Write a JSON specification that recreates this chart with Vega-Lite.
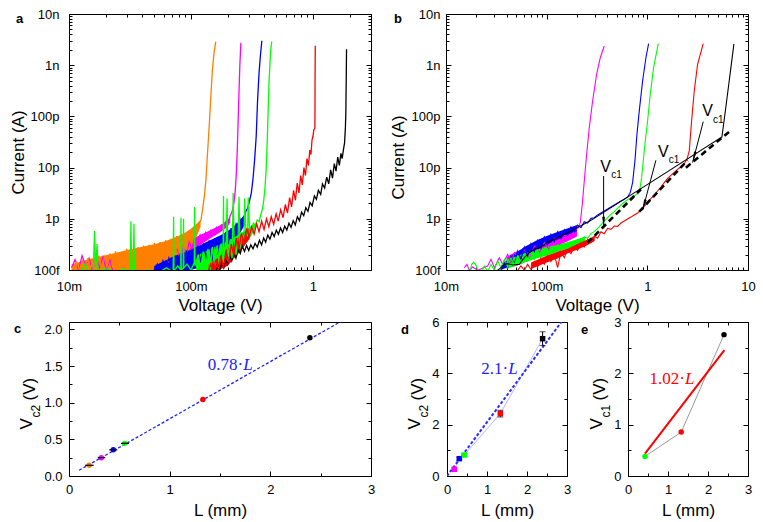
{
  "$schema": "https://vega.github.io/schema/vega-lite/v6.json",
  "background": "white",
  "padding": {"left": 8, "top": 7, "right": 5, "bottom": 3},
  "config": {
    "view": {"stroke": "#000", "strokeWidth": 1},
    "font": "Liberation Sans",
    "axis": {
      "grid": false, "domain": false, "labelFont": "Liberation Sans", "labelFontSize": 13,
      "labelColor": "#000", "titleFont": "Liberation Sans", "titleFontSize": 17,
      "titleFontWeight": "normal", "titleColor": "#000", "tickColor": "#000",
      "labelFlush": false, "labelOverlap": false
    }
  },
  "datasets": {
    "ba": [
      {"s":"m","v":0.077,"lo":1.5e-13,"hi":2.6e-13},{"s":"m","v":0.09,"lo":1.9e-13,"hi":3.3e-13},{"s":"m","v":0.1,"lo":2.3e-13,"hi":3.9e-13},{"s":"m","v":0.12,"lo":3.1e-13,"hi":4.9e-13},{"s":"m","v":0.14,"lo":4e-13,"hi":5.8e-13},{"s":"m","v":0.16,"lo":4.8e-13,"hi":6.8e-13},{"s":"m","v":0.18,"lo":5.8e-13,"hi":7.8e-13},{"s":"m","v":0.2,"lo":7e-13,"hi":9.5e-13},{"s":"m","v":0.21,"lo":8.5e-13,"hi":1.1e-12},
      {"s":"o","v":0.0105,"lo":1e-13,"hi":1.3e-13},{"s":"o","v":0.015,"lo":1e-13,"hi":1.65e-13},{"s":"o","v":0.02,"lo":1e-13,"hi":1.95e-13},{"s":"o","v":0.03,"lo":1e-13,"hi":2.45e-13},{"s":"o","v":0.04,"lo":1e-13,"hi":2.85e-13},{"s":"o","v":0.05,"lo":1e-13,"hi":3.2e-13},{"s":"o","v":0.06,"lo":1.05e-13,"hi":3.6e-13},{"s":"o","v":0.07,"lo":1.2e-13,"hi":4.1e-13},{"s":"o","v":0.08,"lo":1.5e-13,"hi":4.7e-13},{"s":"o","v":0.09,"lo":1.9e-13,"hi":5.4e-13},{"s":"o","v":0.1,"lo":2.8e-13,"hi":6.4e-13},{"s":"o","v":0.11,"lo":4.2e-13,"hi":7.8e-13},{"s":"o","v":0.12,"lo":7e-13,"hi":9.5e-13},
      {"s":"b","v":0.05,"lo":1e-13,"hi":1.2e-13},{"s":"b","v":0.07,"lo":1e-13,"hi":1.8e-13},{"s":"b","v":0.1,"lo":1e-13,"hi":2.5e-13},{"s":"b","v":0.13,"lo":1.2e-13,"hi":3.4e-13},{"s":"b","v":0.16,"lo":1.5e-13,"hi":4.3e-13},{"s":"b","v":0.19,"lo":2.2e-13,"hi":5.3e-13},{"s":"b","v":0.22,"lo":3.5e-13,"hi":6.8e-13},{"s":"b","v":0.25,"lo":5e-13,"hi":9e-13},{"s":"b","v":0.28,"lo":8e-13,"hi":1.3e-12},
      {"s":"g","v":0.11,"lo":1e-13,"hi":1.9e-13},{"s":"g","v":0.15,"lo":1e-13,"hi":2.7e-13},{"s":"g","v":0.2,"lo":1.3e-13,"hi":3.7e-13},{"s":"g","v":0.25,"lo":2.2e-13,"hi":5e-13},{"s":"g","v":0.3,"lo":4e-13,"hi":6.8e-13},{"s":"g","v":0.34,"lo":6.5e-13,"hi":8.5e-13},
      {"s":"r","v":0.14,"lo":1e-13,"hi":1.3e-13},{"s":"r","v":0.17,"lo":1e-13,"hi":1.8e-13},{"s":"r","v":0.2,"lo":1.2e-13,"hi":2.7e-13},{"s":"r","v":0.23,"lo":1.8e-13,"hi":3.8e-13},{"s":"r","v":0.26,"lo":2.5e-13,"hi":5e-13},{"s":"r","v":0.3,"lo":4e-13,"hi":6.5e-13}
    ],
    "bb": [
      {"s":"m","v":0.04,"lo":1.1e-13,"hi":1.8e-13},{"s":"m","v":0.05,"lo":1.2e-13,"hi":2.3e-13},{"s":"m","v":0.08,"lo":1.8e-13,"hi":3.1e-13},{"s":"m","v":0.12,"lo":2.8e-13,"hi":4.2e-13},{"s":"m","v":0.16,"lo":3.6e-13,"hi":5e-13},{"s":"m","v":0.2,"lo":4.5e-13,"hi":6.5e-13},
      {"s":"b","v":0.035,"lo":1e-13,"hi":1.2e-13},{"s":"b","v":0.045,"lo":1.2e-13,"hi":1.9e-13},{"s":"b","v":0.06,"lo":1.8e-13,"hi":2.8e-13},{"s":"b","v":0.08,"lo":2.5e-13,"hi":3.8e-13},{"s":"b","v":0.1,"lo":3.1e-13,"hi":4.6e-13},{"s":"b","v":0.13,"lo":4e-13,"hi":5.6e-13},{"s":"b","v":0.16,"lo":4.8e-13,"hi":6.5e-13},{"s":"b","v":0.2,"lo":5.8e-13,"hi":7.6e-13},
      {"s":"g","v":0.04,"lo":1.05e-13,"hi":1.6e-13},{"s":"g","v":0.06,"lo":1.4e-13,"hi":2.1e-13},{"s":"g","v":0.08,"lo":1.7e-13,"hi":2.5e-13},{"s":"g","v":0.1,"lo":1.9e-13,"hi":2.8e-13},{"s":"g","v":0.13,"lo":2.3e-13,"hi":3.1e-13},{"s":"g","v":0.16,"lo":2.6e-13,"hi":3.5e-13},{"s":"g","v":0.2,"lo":3e-13,"hi":4e-13},{"s":"g","v":0.24,"lo":3.6e-13,"hi":4.5e-13},
      {"s":"r","v":0.07,"lo":1.05e-13,"hi":1.4e-13},{"s":"r","v":0.1,"lo":1.4e-13,"hi":1.9e-13},{"s":"r","v":0.13,"lo":1.7e-13,"hi":2.3e-13},{"s":"r","v":0.16,"lo":2.1e-13,"hi":2.6e-13},{"s":"r","v":0.2,"lo":2.5e-13,"hi":3.2e-13},{"s":"r","v":0.25,"lo":3e-13,"hi":3.9e-13},{"s":"r","v":0.3,"lo":3.7e-13,"hi":4.6e-13}
    ],
    "ca": [
      {"s":"k","v":0.16,"i":9e-14},{"s":"k","v":0.166,"i":1.2e-13},{"s":"k","v":0.172,"i":9.5e-14},{"s":"k","v":0.179,"i":1.4e-13},{"s":"k","v":0.186,"i":1.1e-13},{"s":"k","v":0.193,"i":1.6e-13},{"s":"k","v":0.2,"i":1.3e-13},{"s":"k","v":0.208,"i":1.9e-13},{"s":"k","v":0.216,"i":1.5e-13},{"s":"k","v":0.225,"i":2.1e-13},{"s":"k","v":0.234,"i":1.7e-13},{"s":"k","v":0.244,"i":2.5e-13},{"s":"k","v":0.254,"i":2.1e-13},{"s":"k","v":0.264,"i":2.9e-13},{"s":"k","v":0.275,"i":2.3e-13},{"s":"k","v":0.286,"i":3.0e-13},{"s":"k","v":0.298,"i":2.4e-13},{"s":"k","v":0.31,"i":3.1e-13},{"s":"k","v":0.323,"i":2.6e-13},{"s":"k","v":0.336,"i":3.3e-13},{"s":"k","v":0.35,"i":2.8e-13},{"s":"k","v":0.365,"i":3.8e-13},{"s":"k","v":0.38,"i":3.1e-13},{"s":"k","v":0.395,"i":4.2e-13},{"s":"k","v":0.41,"i":3.5e-13},{"s":"k","v":0.427,"i":4.8e-13},{"s":"k","v":0.445,"i":4.0e-13},{"s":"k","v":0.463,"i":5.4e-13},{"s":"k","v":0.482,"i":4.5e-13},{"s":"k","v":0.502,"i":6.0e-13},{"s":"k","v":0.522,"i":5.0e-13},{"s":"k","v":0.543,"i":6.6e-13},{"s":"k","v":0.565,"i":5.4e-13},{"s":"k","v":0.588,"i":7.2e-13},{"s":"k","v":0.612,"i":6.0e-13},{"s":"k","v":0.637,"i":8.2e-13},{"s":"k","v":0.663,"i":6.8e-13},{"s":"k","v":0.69,"i":9.2e-13},{"s":"k","v":0.718,"i":7.6e-13},{"s":"k","v":0.747,"i":1.1e-12},{"s":"k","v":0.777,"i":9.2e-13},{"s":"k","v":0.809,"i":1.35e-12},{"s":"k","v":0.842,"i":1.15e-12},{"s":"k","v":0.876,"i":1.65e-12},{"s":"k","v":0.912,"i":1.4e-12},{"s":"k","v":0.949,"i":2.1e-12},{"s":"k","v":0.988,"i":1.8e-12},{"s":"k","v":1.03,"i":2.8e-12},{"s":"k","v":1.07,"i":2.4e-12},{"s":"k","v":1.11,"i":3.6e-12},{"s":"k","v":1.16,"i":3.0e-12},{"s":"k","v":1.2,"i":4.8e-12},{"s":"k","v":1.25,"i":4.0e-12},{"s":"k","v":1.3,"i":6.5e-12},{"s":"k","v":1.35,"i":4.8e-12},{"s":"k","v":1.4,"i":9e-12},{"s":"k","v":1.45,"i":6.2e-12},{"s":"k","v":1.5,"i":1.2e-11},{"s":"k","v":1.55,"i":8.5e-12},{"s":"k","v":1.6,"i":1.6e-11},{"s":"k","v":1.65,"i":1.1e-11},{"s":"k","v":1.7,"i":1.9e-11},{"s":"k","v":1.74,"i":1.5e-11},{"s":"k","v":1.78,"i":2.2e-11},{"s":"k","v":1.82,"i":3e-11},{"s":"k","v":1.85,"i":6e-11},{"s":"k","v":1.866,"i":1.2e-10},{"s":"k","v":1.88,"i":6e-10},{"s":"k","v":1.89,"i":2.05e-9},
      {"s":"m0","v":0.0105,"i":1.1e-13},{"s":"m0","v":0.0112,"i":1.6e-13},{"s":"m0","v":0.012,"i":1.0e-13},{"s":"m0","v":0.0128,"i":1.9e-13},{"s":"m0","v":0.0137,"i":1.2e-13},{"s":"m0","v":0.0146,"i":1.7e-13},{"s":"m0","v":0.0156,"i":9.5e-14},{"s":"m0","v":0.0167,"i":2.0e-13},{"s":"m0","v":0.0178,"i":1.1e-13},{"s":"m0","v":0.019,"i":1.8e-13},{"s":"m0","v":0.0203,"i":1.0e-13},{"s":"m0","v":0.0217,"i":1.6e-13},{"s":"m0","v":0.023,"i":9e-14},
      {"s":"m","v":0.077,"i":2.6e-13},{"s":"m","v":0.082,"i":1.6e-13},{"s":"m","v":0.087,"i":3.0e-13},{"s":"m","v":0.092,"i":2.0e-13},{"s":"m","v":0.097,"i":3.6e-13},{"s":"m","v":0.102,"i":2.5e-13},{"s":"m","v":0.107,"i":4.2e-13},{"s":"m","v":0.113,"i":3.0e-13},{"s":"m","v":0.119,"i":4.8e-13},{"s":"m","v":0.125,"i":3.6e-13},{"s":"m","v":0.132,"i":5.4e-13},{"s":"m","v":0.139,"i":4.2e-13},{"s":"m","v":0.146,"i":6.0e-13},{"s":"m","v":0.154,"i":5.0e-13},{"s":"m","v":0.162,"i":6.8e-13},{"s":"m","v":0.17,"i":5.8e-13},{"s":"m","v":0.178,"i":7.6e-13},{"s":"m","v":0.186,"i":6.8e-13},{"s":"m","v":0.194,"i":9e-13},{"s":"m","v":0.202,"i":8.5e-13},{"s":"m","v":0.21,"i":1.15e-12},{"s":"m","v":0.218,"i":1.4e-12},{"s":"m","v":0.225,"i":2e-12},{"s":"m","v":0.231,"i":3.5e-12},{"s":"m","v":0.236,"i":8e-12},{"s":"m","v":0.24,"i":2.2e-11},{"s":"m","v":0.244,"i":8e-11},{"s":"m","v":0.248,"i":3e-10},{"s":"m","v":0.252,"i":1e-9},{"s":"m","v":0.257,"i":2.75e-9},
      {"s":"o","v":0.0105,"i":1.2e-13},{"s":"o","v":0.011,"i":9.5e-14},{"s":"o","v":0.0116,"i":1.4e-13},{"s":"o","v":0.0122,"i":1.0e-13},{"s":"o","v":0.0129,"i":1.5e-13},{"s":"o","v":0.0136,"i":1.1e-13},{"s":"o","v":0.0143,"i":1.7e-13},{"s":"o","v":0.015,"i":1.05e-13},{"s":"o","v":0.0158,"i":1.6e-13},{"s":"o","v":0.0167,"i":1.15e-13},{"s":"o","v":0.0176,"i":1.9e-13},{"s":"o","v":0.0185,"i":1.0e-13},{"s":"o","v":0.0195,"i":1.8e-13},{"s":"o","v":0.0206,"i":1.2e-13},{"s":"o","v":0.0217,"i":2.1e-13},{"s":"o","v":0.0229,"i":1.1e-13},{"s":"o","v":0.0241,"i":2.3e-13},{"s":"o","v":0.0254,"i":1.25e-13},{"s":"o","v":0.0268,"i":2.2e-13},{"s":"o","v":0.0282,"i":1.05e-13},{"s":"o","v":0.0297,"i":2.6e-13},{"s":"o","v":0.0313,"i":1.3e-13},{"s":"o","v":0.033,"i":2.5e-13},{"s":"o","v":0.0348,"i":1.15e-13},{"s":"o","v":0.0367,"i":2.8e-13},{"s":"o","v":0.0387,"i":1.4e-13},{"s":"o","v":0.0408,"i":3.0e-13},{"s":"o","v":0.043,"i":1.2e-13},{"s":"o","v":0.0453,"i":3.1e-13},{"s":"o","v":0.0477,"i":1.5e-13},{"s":"o","v":0.0503,"i":3.4e-13},{"s":"o","v":0.053,"i":1.3e-13},{"s":"o","v":0.0559,"i":3.5e-13},{"s":"o","v":0.0589,"i":1.6e-13},{"s":"o","v":0.0621,"i":3.8e-13},{"s":"o","v":0.0654,"i":1.4e-13},{"s":"o","v":0.0689,"i":4.1e-13},{"s":"o","v":0.0726,"i":1.8e-13},{"s":"o","v":0.0765,"i":4.6e-13},{"s":"o","v":0.0806,"i":2.0e-13},{"s":"o","v":0.085,"i":5.0e-13},{"s":"o","v":0.0896,"i":2.6e-13},{"s":"o","v":0.0944,"i":5.6e-13},{"s":"o","v":0.0995,"i":3.4e-13},{"s":"o","v":0.105,"i":6.4e-13},{"s":"o","v":0.11,"i":4.8e-13},{"s":"o","v":0.116,"i":8.0e-13},{"s":"o","v":0.121,"i":9.5e-13},{"s":"o","v":0.125,"i":1.6e-12},{"s":"o","v":0.129,"i":2.8e-12},{"s":"o","v":0.133,"i":6e-12},{"s":"o","v":0.136,"i":1.5e-11},{"s":"o","v":0.139,"i":3.5e-11},{"s":"o","v":0.142,"i":8e-11},{"s":"o","v":0.145,"i":2e-10},{"s":"o","v":0.15,"i":8e-10},{"s":"o","v":0.155,"i":1.8e-9},{"s":"o","v":0.16,"i":2.9e-9},
      {"s":"b","v":0.05,"i":1.0e-13},{"s":"b","v":0.053,"i":1.3e-13},{"s":"b","v":0.056,"i":9e-14},{"s":"b","v":0.059,"i":1.5e-13},{"s":"b","v":0.062,"i":1.0e-13},{"s":"b","v":0.066,"i":1.7e-13},{"s":"b","v":0.07,"i":1.05e-13},{"s":"b","v":0.074,"i":1.9e-13},{"s":"b","v":0.078,"i":1.1e-13},{"s":"b","v":0.082,"i":2.1e-13},{"s":"b","v":0.087,"i":1.0e-13},{"s":"b","v":0.092,"i":2.4e-13},{"s":"b","v":0.097,"i":1.2e-13},{"s":"b","v":0.102,"i":2.6e-13},{"s":"b","v":0.108,"i":1.1e-13},{"s":"b","v":0.114,"i":3.0e-13},{"s":"b","v":0.12,"i":1.4e-13},{"s":"b","v":0.127,"i":3.3e-13},{"s":"b","v":0.134,"i":1.6e-13},{"s":"b","v":0.141,"i":3.8e-13},{"s":"b","v":0.149,"i":1.5e-13},{"s":"b","v":0.157,"i":4.2e-13},{"s":"b","v":0.165,"i":2.0e-13},{"s":"b","v":0.174,"i":4.6e-13},{"s":"b","v":0.183,"i":2.4e-13},{"s":"b","v":0.193,"i":5.5e-13},{"s":"b","v":0.203,"i":3.2e-13},{"s":"b","v":0.213,"i":6.5e-13},{"s":"b","v":0.224,"i":4.5e-13},{"s":"b","v":0.235,"i":8e-13},{"s":"b","v":0.246,"i":6e-13},{"s":"b","v":0.258,"i":1.0e-12},{"s":"b","v":0.27,"i":8.5e-13},{"s":"b","v":0.282,"i":1.4e-12},{"s":"b","v":0.292,"i":1.6e-12},{"s":"b","v":0.302,"i":2.2e-12},{"s":"b","v":0.313,"i":3.2e-12},{"s":"b","v":0.323,"i":6e-12},{"s":"b","v":0.333,"i":1.4e-11},{"s":"b","v":0.343,"i":4e-11},{"s":"b","v":0.352,"i":2e-10},{"s":"b","v":0.362,"i":7e-10},{"s":"b","v":0.372,"i":1.6e-9},{"s":"b","v":0.382,"i":3e-9},
      {"s":"g","v":0.0125,"i":9e-14},{"s":"g","v":0.0135,"i":1.3e-13},{"s":"g","v":0.0145,"i":9e-14},{"s":"g","v":0.0158,"i":9e-14},{"s":"g","v":0.0162,"i":5.8e-13},{"s":"g","v":0.0165,"i":9e-14},{"s":"g","v":0.017,"i":3.2e-13},{"s":"g","v":0.0173,"i":9e-14},{"s":"g","v":0.02,"i":1.1e-13},{"s":"g","v":0.024,"i":9e-14},{"s":"g","v":0.028,"i":1.05e-13},{"s":"g","v":0.0318,"i":9e-14},{"s":"g","v":0.0322,"i":9e-13},{"s":"g","v":0.0327,"i":9e-14},{"s":"g","v":0.0337,"i":9e-14},{"s":"g","v":0.0341,"i":8e-13},{"s":"g","v":0.0345,"i":9e-14},{"s":"g","v":0.045,"i":1.0e-13},{"s":"g","v":0.055,"i":9e-14},{"s":"g","v":0.063,"i":1.1e-13},{"s":"g","v":0.0715,"i":9e-14},{"s":"g","v":0.0721,"i":1.1e-12},{"s":"g","v":0.0727,"i":9.5e-14},{"s":"g","v":0.078,"i":1.2e-13},{"s":"g","v":0.0825,"i":1.0e-13},{"s":"g","v":0.0829,"i":1.05e-12},{"s":"g","v":0.0834,"i":1.0e-13},{"s":"g","v":0.0865,"i":1.1e-13},{"s":"g","v":0.087,"i":1.0e-12},{"s":"g","v":0.0875,"i":1.1e-13},{"s":"g","v":0.093,"i":1.3e-13},{"s":"g","v":0.1,"i":1.0e-13},{"s":"g","v":0.1065,"i":1.4e-13},{"s":"g","v":0.1072,"i":1.7e-12},{"s":"g","v":0.108,"i":1.2e-13},{"s":"g","v":0.115,"i":2.0e-13},{"s":"g","v":0.12,"i":1.0e-13},{"s":"g","v":0.126,"i":2.3e-13},{"s":"g","v":0.132,"i":1.1e-13},{"s":"g","v":0.138,"i":2.6e-13},{"s":"g","v":0.144,"i":1.0e-13},{"s":"g","v":0.15,"i":2.8e-13},{"s":"g","v":0.157,"i":1.2e-13},{"s":"g","v":0.164,"i":3.0e-13},{"s":"g","v":0.171,"i":1.3e-13},{"s":"g","v":0.178,"i":3.3e-13},{"s":"g","v":0.1835,"i":1.4e-13},{"s":"g","v":0.185,"i":2.8e-12},{"s":"g","v":0.1865,"i":1.4e-13},{"s":"g","v":0.195,"i":3.6e-13},{"s":"g","v":0.198,"i":2.5e-12},{"s":"g","v":0.201,"i":1.5e-13},{"s":"g","v":0.21,"i":3.9e-13},{"s":"g","v":0.218,"i":1.7e-13},{"s":"g","v":0.222,"i":3.2e-12},{"s":"g","v":0.226,"i":4.3e-13},{"s":"g","v":0.235,"i":2.0e-13},{"s":"g","v":0.244,"i":4.8e-13},{"s":"g","v":0.248,"i":2.7e-12},{"s":"g","v":0.253,"i":2.6e-13},{"s":"g","v":0.263,"i":5.5e-13},{"s":"g","v":0.272,"i":3.4e-13},{"s":"g","v":0.276,"i":2.5e-12},{"s":"g","v":0.282,"i":6.2e-13},{"s":"g","v":0.292,"i":4.5e-13},{"s":"g","v":0.295,"i":2.6e-12},{"s":"g","v":0.302,"i":7.0e-13},{"s":"g","v":0.313,"i":5.8e-13},{"s":"g","v":0.325,"i":8.2e-13},{"s":"g","v":0.337,"i":7.2e-13},{"s":"g","v":0.35,"i":9.5e-13},{"s":"g","v":0.362,"i":8.8e-13},{"s":"g","v":0.374,"i":1.2e-12},{"s":"g","v":0.385,"i":1.5e-12},{"s":"g","v":0.395,"i":2.2e-12},{"s":"g","v":0.405,"i":4e-12},{"s":"g","v":0.415,"i":1e-11},{"s":"g","v":0.423,"i":3.5e-11},{"s":"g","v":0.43,"i":1.3e-10},{"s":"g","v":0.437,"i":4.5e-10},{"s":"g","v":0.445,"i":1.1e-9},{"s":"g","v":0.452,"i":2e-9},{"s":"g","v":0.46,"i":2.9e-9},
      {"s":"r","v":0.138,"i":9e-14},{"s":"r","v":0.145,"i":1.3e-13},{"s":"r","v":0.152,"i":9.5e-14},{"s":"r","v":0.16,"i":1.6e-13},{"s":"r","v":0.168,"i":1.0e-13},{"s":"r","v":0.176,"i":1.9e-13},{"s":"r","v":0.185,"i":1.1e-13},{"s":"r","v":0.194,"i":2.4e-13},{"s":"r","v":0.204,"i":1.4e-13},{"s":"r","v":0.214,"i":3.2e-13},{"s":"r","v":0.225,"i":1.9e-13},{"s":"r","v":0.236,"i":4.2e-13},{"s":"r","v":0.248,"i":2.6e-13},{"s":"r","v":0.26,"i":5.2e-13},{"s":"r","v":0.273,"i":3.4e-13},{"s":"r","v":0.287,"i":6.5e-13},{"s":"r","v":0.3,"i":4.4e-13},{"s":"r","v":0.315,"i":7.0e-13},{"s":"r","v":0.33,"i":5.0e-13},{"s":"r","v":0.346,"i":8.0e-13},{"s":"r","v":0.362,"i":5.6e-13},{"s":"r","v":0.38,"i":9.0e-13},{"s":"r","v":0.398,"i":6.2e-13},{"s":"r","v":0.417,"i":1.0e-12},{"s":"r","v":0.436,"i":7.0e-13},{"s":"r","v":0.456,"i":1.1e-12},{"s":"r","v":0.477,"i":7.8e-13},{"s":"r","v":0.5,"i":1.25e-12},{"s":"r","v":0.52,"i":9.0e-13},{"s":"r","v":0.545,"i":1.5e-12},{"s":"r","v":0.57,"i":1.05e-12},{"s":"r","v":0.595,"i":1.9e-12},{"s":"r","v":0.62,"i":1.3e-12},{"s":"r","v":0.645,"i":2.6e-12},{"s":"r","v":0.67,"i":1.7e-12},{"s":"r","v":0.695,"i":3.6e-12},{"s":"r","v":0.72,"i":2.3e-12},{"s":"r","v":0.745,"i":5.0e-12},{"s":"r","v":0.77,"i":3.2e-12},{"s":"r","v":0.795,"i":7.0e-12},{"s":"r","v":0.82,"i":4.6e-12},{"s":"r","v":0.845,"i":1.0e-11},{"s":"r","v":0.87,"i":7e-12},{"s":"r","v":0.895,"i":1.5e-11},{"s":"r","v":0.92,"i":1.1e-11},{"s":"r","v":0.945,"i":2.2e-11},{"s":"r","v":0.965,"i":1.8e-11},{"s":"r","v":0.985,"i":3.5e-11},{"s":"r","v":1.0,"i":4e-11},{"s":"r","v":1.02,"i":5.5e-11},{"s":"r","v":1.04,"i":6e-11},{"s":"r","v":1.043,"i":5e-10},{"s":"r","v":1.047,"i":2.4e-9}
    ],
    "cb": [
      {"s":"m","v":0.01521,"i":1.11e-13},{"s":"m","v":0.01616,"i":1.29e-13},{"s":"m","v":0.01705,"i":9.9e-14},{"s":"m","v":0.01839,"i":1.145e-13},{"s":"m","v":0.02063,"i":9.9e-14},{"s":"m","v":0.02594,"i":1.197e-13},{"s":"m","v":0.02798,"i":1.615e-13},{"s":"m","v":0.0302,"i":1.11e-13},{"s":"m","v":0.03385,"i":1.74e-13},{"s":"m","v":0.03653,"i":1.29e-13},{"s":"m","v":0.04097,"i":2.02e-13},{"s":"m","v":0.04419,"i":1.39e-13},{"s":"m","v":0.04771,"i":2.18e-13},{"s":"m","v":0.05349,"i":1.615e-13},{"s":"m","v":0.05997,"i":2.53e-13},{"s":"m","v":0.06721,"i":1.74e-13},{"s":"m","v":0.07535,"i":2.94e-13},{"s":"m","v":0.08449,"i":2.18e-13},{"s":"m","v":0.09473,"i":3.42e-13},{"s":"m","v":0.1062,"i":2.53e-13},{"s":"m","v":0.1191,"i":4.16e-13},{"s":"m","v":0.1335,"i":3.17e-13},{"s":"m","v":0.1497,"i":4.83e-13},{"s":"m","v":0.1678,"i":3.97e-13},{"s":"m","v":0.1881,"i":5.78e-13},{"s":"m","v":0.2061,"i":6.71e-13},{"s":"m","v":0.2158,"i":8.41e-13},{"s":"m","v":0.2259,"i":1.92e-12},{"s":"m","v":0.2364,"i":5.47e-12},{"s":"m","v":0.2494,"i":1.82e-11},{"s":"m","v":0.2651,"i":6.03e-11},{"s":"m","v":0.286,"i":2.0e-10},{"s":"m","v":0.3134,"i":6.64e-10},{"s":"m","v":0.3408,"i":1.4e-9},{"s":"m","v":0.3736,"i":2.37e-9},
      {"s":"b","v":0.0352,"i":9.9e-14},{"s":"b","v":0.03796,"i":1.39e-13},{"s":"b","v":0.04097,"i":1.11e-13},{"s":"b","v":0.04419,"i":1.88e-13},{"s":"b","v":0.04771,"i":1.29e-13},{"s":"b","v":0.05149,"i":2.35e-13},{"s":"b","v":0.05557,"i":1.615e-13},{"s":"b","v":0.05997,"i":2.81e-13},{"s":"b","v":0.06471,"i":1.88e-13},{"s":"b","v":0.06985,"i":3.27e-13},{"s":"b","v":0.07535,"i":2.28e-13},{"s":"b","v":0.08134,"i":3.8e-13},{"s":"b","v":0.08778,"i":2.65e-13},{"s":"b","v":0.09473,"i":4.41e-13},{"s":"b","v":0.1022,"i":3.08e-13},{"s":"b","v":0.1103,"i":4.97e-13},{"s":"b","v":0.1191,"i":3.57e-13},{"s":"b","v":0.1285,"i":5.61e-13},{"s":"b","v":0.1387,"i":4.16e-13},{"s":"b","v":0.1497,"i":6.14e-13},{"s":"b","v":0.1615,"i":4.83e-13},{"s":"b","v":0.1743,"i":6.92e-13},{"s":"b","v":0.1881,"i":5.61e-13},{"s":"b","v":0.203,"i":7.57e-13},{"s":"b","v":0.2191,"i":6.71e-13},{"s":"b","v":0.2364,"i":8.79e-13},{"s":"b","v":0.2551,"i":8.28e-13},{"s":"b","v":0.2754,"i":1.02e-12},{"s":"b","v":0.2972,"i":1.05e-12},{"s":"b","v":0.3207,"i":1.19e-12},{"s":"b","v":0.3461,"i":1.3e-12},{"s":"b","v":0.3736,"i":1.42e-12},{"s":"b","v":0.4031,"i":1.55e-12},{"s":"b","v":0.435,"i":1.7e-12},{"s":"b","v":0.4695,"i":1.86e-12},{"s":"b","v":0.5067,"i":2.04e-12},{"s":"b","v":0.5468,"i":2.23e-12},{"s":"b","v":0.5901,"i":2.4e-12},{"s":"b","v":0.6368,"i":2.67e-12},{"s":"b","v":0.6767,"i":3.24e-12},{"s":"b","v":0.714,"i":5.08e-12},{"s":"b","v":0.7529,"i":1.35e-11},{"s":"b","v":0.7884,"i":4.46e-11},{"s":"b","v":0.8316,"i":1.28e-10},{"s":"b","v":0.8974,"i":4.91e-10},{"s":"b","v":0.9685,"i":1.4e-9},{"s":"b","v":1.0294,"i":2.64e-9},
      {"s":"g","v":0.01744,"i":9.9e-14},{"s":"g","v":0.01798,"i":1.29e-13},{"s":"g","v":0.01882,"i":1.41e-13},{"s":"g","v":0.01986,"i":1.25e-13},{"s":"g","v":0.02063,"i":9.9e-14},{"s":"g","v":0.02226,"i":9.3e-14},{"s":"g","v":0.02403,"i":1.197e-13},{"s":"g","v":0.02594,"i":9.3e-14},{"s":"g","v":0.02798,"i":1.29e-13},{"s":"g","v":0.0302,"i":9.9e-14},{"s":"g","v":0.0326,"i":1.5e-13},{"s":"g","v":0.0352,"i":1.11e-13},{"s":"g","v":0.03796,"i":1.615e-13},{"s":"g","v":0.04097,"i":1.145e-13},{"s":"g","v":0.04419,"i":1.74e-13},{"s":"g","v":0.04771,"i":1.25e-13},{"s":"g","v":0.05149,"i":1.88e-13},{"s":"g","v":0.05557,"i":1.33e-13},{"s":"g","v":0.05997,"i":2.08e-13},{"s":"g","v":0.06471,"i":1.5e-13},{"s":"g","v":0.06985,"i":2.28e-13},{"s":"g","v":0.07535,"i":1.615e-13},{"s":"g","v":0.08134,"i":2.42e-13},{"s":"g","v":0.08778,"i":1.79e-13},{"s":"g","v":0.09473,"i":2.65e-13},{"s":"g","v":0.1022,"i":1.96e-13},{"s":"g","v":0.1103,"i":2.81e-13},{"s":"g","v":0.1191,"i":2.18e-13},{"s":"g","v":0.1285,"i":3.03e-13},{"s":"g","v":0.1387,"i":2.42e-13},{"s":"g","v":0.1497,"i":3.27e-13},{"s":"g","v":0.1615,"i":2.65e-13},{"s":"g","v":0.1743,"i":3.57e-13},{"s":"g","v":0.1881,"i":2.99e-13},{"s":"g","v":0.203,"i":3.92e-13},{"s":"g","v":0.2191,"i":3.47e-13},{"s":"g","v":0.2364,"i":4.41e-13},{"s":"g","v":0.2551,"i":4.16e-13},{"s":"g","v":0.2754,"i":5.13e-13},{"s":"g","v":0.2972,"i":5.61e-13},{"s":"g","v":0.3207,"i":6.52e-13},{"s":"g","v":0.3461,"i":7.57e-13},{"s":"g","v":0.3736,"i":9.06e-13},{"s":"g","v":0.4031,"i":1.05e-12},{"s":"g","v":0.435,"i":1.22e-12},{"s":"g","v":0.4695,"i":1.38e-12},{"s":"g","v":0.5067,"i":1.6e-12},{"s":"g","v":0.5468,"i":1.86e-12},{"s":"g","v":0.5901,"i":2.1e-12},{"s":"g","v":0.6368,"i":2.37e-12},{"s":"g","v":0.6872,"i":2.59e-12},{"s":"g","v":0.7416,"i":2.83e-12},{"s":"g","v":0.8003,"i":3.1e-12},{"s":"g","v":0.8379,"i":3.49e-12},{"s":"g","v":0.877,"i":6.37e-12},{"s":"g","v":0.9182,"i":1.56e-11},{"s":"g","v":0.9537,"i":3.31e-11},{"s":"g","v":1.006,"i":8.13e-11},{"s":"g","v":1.0693,"i":2.7e-10},{"s":"g","v":1.154,"i":8.96e-10},{"s":"g","v":1.284,"i":2.64e-9},
      {"s":"r","v":0.05149,"i":9.9e-14},{"s":"r","v":0.05557,"i":1.197e-13},{"s":"r","v":0.05997,"i":9.9e-14},{"s":"r","v":0.06471,"i":1.29e-13},{"s":"r","v":0.06985,"i":1.03e-13},{"s":"r","v":0.07535,"i":1.46e-13},{"s":"r","v":0.08134,"i":1.145e-13},{"s":"r","v":0.08778,"i":1.69e-13},{"s":"r","v":0.09473,"i":1.29e-13},{"s":"r","v":0.1022,"i":1.88e-13},{"s":"r","v":0.1103,"i":1.46e-13},{"s":"r","v":0.1191,"i":2.02e-13},{"s":"r","v":0.1285,"i":1.11e-13},{"s":"r","v":0.1387,"i":2.28e-13},{"s":"r","v":0.1497,"i":1.74e-13},{"s":"r","v":0.1615,"i":2.53e-13},{"s":"r","v":0.1743,"i":2.08e-13},{"s":"r","v":0.1881,"i":2.94e-13},{"s":"r","v":0.203,"i":2.42e-13},{"s":"r","v":0.2191,"i":3.42e-13},{"s":"r","v":0.2364,"i":2.81e-13},{"s":"r","v":0.2551,"i":3.92e-13},{"s":"r","v":0.2754,"i":3.42e-13},{"s":"r","v":0.2972,"i":4.61e-13},{"s":"r","v":0.3207,"i":4.16e-13},{"s":"r","v":0.3461,"i":5.61e-13},{"s":"r","v":0.3736,"i":5.13e-13},{"s":"r","v":0.4031,"i":6.52e-13},{"s":"r","v":0.435,"i":6.22e-13},{"s":"r","v":0.4695,"i":7.23e-13},{"s":"r","v":0.5067,"i":7.13e-13},{"s":"r","v":0.5468,"i":8.28e-13},{"s":"r","v":0.5901,"i":9.06e-13},{"s":"r","v":0.6368,"i":9.91e-13},{"s":"r","v":0.6872,"i":1.08e-12},{"s":"r","v":0.7416,"i":1.19e-12},{"s":"r","v":0.8003,"i":1.3e-12},{"s":"r","v":0.8637,"i":1.46e-12},{"s":"r","v":0.9322,"i":1.75e-12},{"s":"r","v":1.006,"i":2.1e-12},{"s":"r","v":1.086,"i":2.51e-12},{"s":"r","v":1.172,"i":2.87e-12},{"s":"r","v":1.264,"i":3.49e-12},{"s":"r","v":1.365,"i":4.18e-12},{"s":"r","v":1.473,"i":5.08e-12},{"s":"r","v":1.589,"i":6.17e-12},{"s":"r","v":1.715,"i":7.06e-12},{"s":"r","v":1.851,"i":8.09e-12},{"s":"r","v":1.998,"i":9.25e-12},{"s":"r","v":2.156,"i":1.04e-11},{"s":"r","v":2.327,"i":1.19e-11},{"s":"r","v":2.473,"i":1.45e-11},{"s":"r","v":2.609,"i":2.11e-11},{"s":"r","v":2.752,"i":8.13e-11},{"s":"r","v":2.924,"i":3.13e-10},{"s":"r","v":3.156,"i":1.04e-9},{"s":"r","v":3.592,"i":2.64e-9},
      {"s":"k","v":0.0326,"i":9.9e-14},{"s":"k","v":0.0352,"i":1.11e-13},{"s":"k","v":0.03796,"i":1.29e-13},{"s":"k","v":0.04097,"i":1.33e-13},{"s":"k","v":0.04592,"i":1.25e-13},{"s":"k","v":0.05349,"i":1.29e-13},{"s":"k","v":0.05997,"i":1.74e-13},{"s":"k","v":0.06721,"i":2.18e-13},{"s":"k","v":0.07535,"i":2.53e-13},{"s":"k","v":0.08778,"i":2.81e-13},{"s":"k","v":0.1022,"i":3.47e-13},{"s":"k","v":0.1191,"i":3.97e-13},{"s":"k","v":0.1387,"i":4.61e-13},{"s":"k","v":0.1615,"i":5.36e-13},{"s":"k","v":0.1881,"i":6.32e-13},{"s":"k","v":0.2191,"i":7.35e-13},{"s":"k","v":0.2754,"i":9.33e-13},{"s":"k","v":1.006,"i":4.71e-12},{"s":"k","v":5.505,"i":3.96e-11},{"s":"k","v":5.897,"i":1.1e-10},{"s":"k","v":6.317,"i":3.13e-10},{"s":"k","v":6.764,"i":8.96e-10},{"s":"k","v":7.244,"i":2.6e-9}
    ],
    "fb": [
      {"seg":1,"v":0.2551,"i":3.42e-13},{"seg":1,"v":0.8637,"i":3.77e-12},
      {"seg":2,"v":0.8316,"i":1.38e-12},{"seg":2,"v":2.511,"i":1.39e-11},
      {"seg":3,"v":2.416,"i":9.97e-12},{"seg":3,"v":6.764,"i":5.35e-11}
    ],
    "ab": [
      {"a":1,"v":0.3679,"i":6.85e-12},{"a":1,"v":0.3679,"i":6.71e-13},
      {"a":2,"v":1.217,"i":1.39e-11},{"a":2,"v":0.8974,"i":1.47e-12},
      {"a":3,"v":3.592,"i":7.89e-11},{"a":3,"v":2.815,"i":1.25e-11}
    ],
    "hb": [
      {"a":1,"v":0.3679,"i":8.6e-13},
      {"a":2,"v":0.927,"i":1.86e-12},
      {"a":3,"v":2.906,"i":1.59e-11}
    ],
    "tb": [
      {"t":"V","v":0.385,"i":1.04e-11},{"t":"V","v":1.439,"i":2.05e-11},{"t":"V","v":3.97,"i":1.27e-10},
      {"t":"c1","v":0.437,"i":7.18e-12},{"t":"c1","v":1.632,"i":1.39e-11},{"t":"c1","v":4.5,"i":8.4e-11}
    ],
    "pc": [
      {"s":"o","L":0.2,"V":0.146,"lo":0.16,"hi":0.245},
      {"s":"m","L":0.32,"V":0.25,"lo":0.285,"hi":0.36},
      {"s":"b","L":0.44,"V":0.357,"lo":0.4,"hi":0.48},
      {"s":"g","L":0.553,"V":0.445,"lo":0.517,"hi":0.595},
      {"s":"r","L":1.33,"V":1.043,"lo":1.33,"hi":1.33},
      {"s":"k","L":2.393,"V":1.885,"lo":2.393,"hi":2.393}
    ],
    "pd": [
      {"s":"m","L":0.183,"V":0.26,"lo":0.2,"hi":0.32},
      {"s":"b","L":0.308,"V":0.675,"lo":0.62,"hi":0.73},
      {"s":"g","L":0.433,"V":0.82,"lo":0.77,"hi":0.87},
      {"s":"r","L":1.333,"V":2.43,"lo":2.3,"hi":2.56},
      {"s":"k","L":2.39,"V":5.35,"lo":5.08,"hi":5.62}
    ],
    "pe": [
      {"s":"g","L":0.425,"V":0.382},
      {"s":"r","L":1.33,"V":0.855},
      {"s":"k","L":2.4,"V":2.754}
    ]
  },
  "vconcat": [
    {
      "bounds": "flush",
      "spacing": 75,
      "hconcat": [
        {
          "width": 302, "height": 256,
          "title": {"text": "a", "anchor": "start", "frame": "group", "dx": -53, "offset": -27.5, "fontSize": 13, "fontWeight": "bold", "baseline": "alphabetic", "font": "Liberation Sans", "color": "#000"},
          "layer": [
            {
              "data": {"name": "ba"},
              "mark": {"type": "area", "opacity": 1, "clip": true},
              "encoding": {
                "x": {"field": "v", "type": "quantitative", "scale": {"type": "log", "domain": [0.01, 3], "nice": false}, "axis": null},
                "y": {"field": "hi", "type": "quantitative", "scale": {"type": "log", "domain": [1e-13, 1e-8], "nice": false}, "axis": null},
                "y2": {"field": "lo"},
                "color": {"field": "s", "type": "nominal", "scale": {"domain": ["k", "m0", "m", "o", "b", "g", "r"], "range": ["#000000", "#ff00ff", "#ff00ff", "#ff8000", "#0000ff", "#00ff00", "#ff0000"]}, "legend": null}
              }
            },
            {
              "data": {"name": "ca"},
              "mark": {"type": "line", "strokeWidth": 1.3, "clip": true},
              "encoding": {
                "x": {"field": "v", "type": "quantitative", "scale": {"type": "log", "domain": [0.01, 3], "nice": false},
                  "axis": {"orient": "bottom", "values": [0.01, 0.1, 1], "format": "~s", "ticks": false, "labelPadding": 10, "title": "Voltage (V)", "titleBaseline": "top", "titleY": 27}},
                "y": {"field": "i", "type": "quantitative", "scale": {"type": "log", "domain": [1e-13, 1e-8], "nice": false},
                  "axis": {"orient": "left", "values": [1e-13, 1e-12, 1e-11, 1e-10, 1e-9, 1e-8], "format": "~s", "ticks": false, "labelPadding": 10, "title": "Current (A)", "titleAngle": -90, "titleBaseline": "alphabetic", "titleAlign": "center", "titleX": -46, "titleY": 138}},
                "color": {"field": "s", "type": "nominal", "scale": {"domain": ["k", "m0", "m", "o", "b", "g", "r"], "range": ["#000000", "#ff00ff", "#ff00ff", "#ff8000", "#0000ff", "#00ff00", "#ff0000"]}, "legend": null}
              }
            },
            {
              "data": {"values": [{"v": 0.1, "i": 1e-11}]},
              "mark": {"type": "point", "opacity": 0},
              "encoding": {
                "x": {"field": "v", "type": "quantitative", "scale": {"type": "log", "domain": [0.01, 3], "nice": false},
                  "axis": {"orient": "bottom", "values": [0.01, 0.1, 1], "labels": false, "title": null, "tickSize": 5, "offset": -5}},
                "y": {"field": "i", "type": "quantitative", "scale": {"type": "log", "domain": [1e-13, 1e-8], "nice": false},
                  "axis": {"orient": "left", "values": [1e-13, 1e-12, 1e-11, 1e-10, 1e-9, 1e-8], "labels": false, "title": null, "tickSize": 5, "offset": -5}}
              }
            },
            {
              "data": {"values": [{"v": 0.1, "i": 1e-11}]},
              "mark": {"type": "point", "opacity": 0},
              "encoding": {
                "x": {"field": "v", "type": "quantitative", "scale": {"type": "log", "domain": [0.01, 3], "nice": false},
                  "axis": {"orient": "bottom", "values": [0.02, 0.03, 0.04, 0.05, 0.06, 0.07, 0.08, 0.09, 0.2, 0.3, 0.4, 0.5, 0.6, 0.7, 0.8, 0.9, 2, 3], "labels": false, "title": null, "tickSize": 3, "offset": -3}},
                "y": {"field": "i", "type": "quantitative", "scale": {"type": "log", "domain": [1e-13, 1e-8], "nice": false},
                  "axis": {"orient": "left", "values": [2e-13, 3e-13, 4e-13, 5e-13, 6e-13, 7e-13, 8e-13, 9e-13, 2e-12, 3e-12, 4e-12, 5e-12, 6e-12, 7e-12, 8e-12, 9e-12, 2e-11, 3e-11, 4e-11, 5e-11, 6e-11, 7e-11, 8e-11, 9e-11, 2e-10, 3e-10, 4e-10, 5e-10, 6e-10, 7e-10, 8e-10, 9e-10, 2e-9, 3e-9, 4e-9, 5e-9, 6e-9, 7e-9, 8e-9, 9e-9], "labels": false, "title": null, "tickSize": 3, "offset": -3}}
              }
            },
            {
              "data": {"values": [{"v": 0.1, "i": 1e-11}]},
              "mark": {"type": "point", "opacity": 0},
              "encoding": {
                "x": {"field": "v", "type": "quantitative", "scale": {"type": "log", "domain": [0.01, 3], "nice": false},
                  "axis": {"orient": "top", "values": [0.01, 0.1, 1], "labels": false, "title": null, "tickSize": 5, "offset": -5}},
                "y": {"field": "i", "type": "quantitative", "scale": {"type": "log", "domain": [1e-13, 1e-8], "nice": false},
                  "axis": {"orient": "right", "values": [1e-13, 1e-12, 1e-11, 1e-10, 1e-9, 1e-8], "labels": false, "title": null, "tickSize": 5, "offset": -5}}
              }
            },
            {
              "data": {"values": [{"v": 0.1, "i": 1e-11}]},
              "mark": {"type": "point", "opacity": 0},
              "encoding": {
                "x": {"field": "v", "type": "quantitative", "scale": {"type": "log", "domain": [0.01, 3], "nice": false},
                  "axis": {"orient": "top", "values": [0.02, 0.03, 0.04, 0.05, 0.06, 0.07, 0.08, 0.09, 0.2, 0.3, 0.4, 0.5, 0.6, 0.7, 0.8, 0.9, 2, 3], "labels": false, "title": null, "tickSize": 3, "offset": -3}},
                "y": {"field": "i", "type": "quantitative", "scale": {"type": "log", "domain": [1e-13, 1e-8], "nice": false},
                  "axis": {"orient": "right", "values": [2e-13, 3e-13, 4e-13, 5e-13, 6e-13, 7e-13, 8e-13, 9e-13, 2e-12, 3e-12, 4e-12, 5e-12, 6e-12, 7e-12, 8e-12, 9e-12, 2e-11, 3e-11, 4e-11, 5e-11, 6e-11, 7e-11, 8e-11, 9e-11, 2e-10, 3e-10, 4e-10, 5e-10, 6e-10, 7e-10, 8e-10, 9e-10, 2e-9, 3e-9, 4e-9, 5e-9, 6e-9, 7e-9, 8e-9, 9e-9], "labels": false, "title": null, "tickSize": 3, "offset": -3}}
              }
            }
          ],
          "resolve": {"axis": {"x": "independent", "y": "independent"}}
        },
        {
          "width": 302, "height": 256,
          "title": {"text": "b", "anchor": "start", "frame": "group", "dx": -52, "offset": -27.5, "fontSize": 13, "fontWeight": "bold", "baseline": "alphabetic", "font": "Liberation Sans", "color": "#000"},
          "layer": [
            {
              "data": {"name": "bb"},
              "mark": {"type": "area", "opacity": 1, "clip": true},
              "encoding": {
                "x": {"field": "v", "type": "quantitative", "scale": {"type": "log", "domain": [0.01, 10], "nice": false}, "axis": null},
                "y": {"field": "hi", "type": "quantitative", "scale": {"type": "log", "domain": [1e-13, 1e-8], "nice": false}, "axis": null},
                "y2": {"field": "lo"},
                "color": {"field": "s", "type": "nominal", "scale": {"domain": ["m", "b", "g", "r", "k"], "range": ["#ff00ff", "#0000ff", "#00ff00", "#ff0000", "#000000"]}, "legend": null}
              }
            },
            {
              "data": {"name": "cb"},
              "mark": {"type": "line", "strokeWidth": 1.1, "clip": true},
              "encoding": {
                "x": {"field": "v", "type": "quantitative", "scale": {"type": "log", "domain": [0.01, 10], "nice": false},
                  "axis": {"orient": "bottom", "values": [0.01, 0.1, 1, 10], "format": "~s", "ticks": false, "labelPadding": 10, "title": "Voltage (V)", "titleBaseline": "top", "titleY": 27}},
                "y": {"field": "i", "type": "quantitative", "scale": {"type": "log", "domain": [1e-13, 1e-8], "nice": false},
                  "axis": {"orient": "left", "values": [1e-13, 1e-12, 1e-11, 1e-10, 1e-9, 1e-8], "format": "~s", "ticks": false, "labelPadding": 6, "title": "Current (A)", "titleAngle": -90, "titleBaseline": "alphabetic", "titleAlign": "center", "titleX": -43, "titleY": 143}},
                "color": {"field": "s", "type": "nominal", "scale": {"domain": ["m", "b", "g", "r", "k"], "range": ["#ff00ff", "#0000ff", "#00ff00", "#ff0000", "#000000"]}, "legend": null}
              }
            },
            {
              "data": {"name": "fb"},
              "mark": {"type": "line", "color": "#000", "strokeWidth": 2.6, "strokeDash": [6, 4], "clip": true},
              "encoding": {
                "x": {"field": "v", "type": "quantitative", "scale": {"type": "log", "domain": [0.01, 10], "nice": false},
                  "axis": {"orient": "bottom", "values": [0.01, 0.1, 1, 10], "labels": false, "title": null, "tickSize": 5, "offset": -5}},
                "y": {"field": "i", "type": "quantitative", "scale": {"type": "log", "domain": [1e-13, 1e-8], "nice": false},
                  "axis": {"orient": "left", "values": [1e-13, 1e-12, 1e-11, 1e-10, 1e-9, 1e-8], "labels": false, "title": null, "tickSize": 5, "offset": -5}},
                "detail": {"field": "seg", "type": "nominal"}
              }
            },
            {
              "data": {"name": "ab"},
              "mark": {"type": "line", "color": "#000", "strokeWidth": 1},
              "encoding": {
                "x": {"field": "v", "type": "quantitative", "scale": {"type": "log", "domain": [0.01, 10], "nice": false},
                  "axis": {"orient": "bottom", "values": [0.02, 0.03, 0.04, 0.05, 0.06, 0.07, 0.08, 0.09, 0.2, 0.3, 0.4, 0.5, 0.6, 0.7, 0.8, 0.9, 2, 3, 4, 5, 6, 7, 8, 9], "labels": false, "title": null, "tickSize": 3, "offset": -3}},
                "y": {"field": "i", "type": "quantitative", "scale": {"type": "log", "domain": [1e-13, 1e-8], "nice": false},
                  "axis": {"orient": "left", "values": [2e-13, 3e-13, 4e-13, 5e-13, 6e-13, 7e-13, 8e-13, 9e-13, 2e-12, 3e-12, 4e-12, 5e-12, 6e-12, 7e-12, 8e-12, 9e-12, 2e-11, 3e-11, 4e-11, 5e-11, 6e-11, 7e-11, 8e-11, 9e-11, 2e-10, 3e-10, 4e-10, 5e-10, 6e-10, 7e-10, 8e-10, 9e-10, 2e-9, 3e-9, 4e-9, 5e-9, 6e-9, 7e-9, 8e-9, 9e-9], "labels": false, "title": null, "tickSize": 3, "offset": -3}},
                "detail": {"field": "a", "type": "nominal"}
              }
            },
            {
              "data": {"name": "hb"},
              "transform": [{"filter": "datum.a == 1"}],
              "mark": {"type": "point", "shape": "M-0.25,-1L0.25,-1L0,1Z", "size": 121, "filled": true, "color": "#000", "opacity": 1},
              "encoding": {
                "x": {"field": "v", "type": "quantitative", "scale": {"type": "log", "domain": [0.01, 10], "nice": false},
                  "axis": {"orient": "top", "values": [0.01, 0.1, 1, 10], "labels": false, "title": null, "tickSize": 5, "offset": -5}},
                "y": {"field": "i", "type": "quantitative", "scale": {"type": "log", "domain": [1e-13, 1e-8], "nice": false},
                  "axis": {"orient": "right", "values": [1e-13, 1e-12, 1e-11, 1e-10, 1e-9, 1e-8], "labels": false, "title": null, "tickSize": 5, "offset": -5}}
              }
            },
            {
              "data": {"name": "hb"},
              "transform": [{"filter": "datum.a != 1"}],
              "mark": {"type": "point", "shape": "M-0.25,-1L0.25,-1L0,1Z", "size": 121, "filled": true, "color": "#000", "opacity": 1, "angle": 15},
              "encoding": {
                "x": {"field": "v", "type": "quantitative", "scale": {"type": "log", "domain": [0.01, 10], "nice": false},
                  "axis": {"orient": "top", "values": [0.02, 0.03, 0.04, 0.05, 0.06, 0.07, 0.08, 0.09, 0.2, 0.3, 0.4, 0.5, 0.6, 0.7, 0.8, 0.9, 2, 3, 4, 5, 6, 7, 8, 9], "labels": false, "title": null, "tickSize": 3, "offset": -3}},
                "y": {"field": "i", "type": "quantitative", "scale": {"type": "log", "domain": [1e-13, 1e-8], "nice": false},
                  "axis": {"orient": "right", "values": [2e-13, 3e-13, 4e-13, 5e-13, 6e-13, 7e-13, 8e-13, 9e-13, 2e-12, 3e-12, 4e-12, 5e-12, 6e-12, 7e-12, 8e-12, 9e-12, 2e-11, 3e-11, 4e-11, 5e-11, 6e-11, 7e-11, 8e-11, 9e-11, 2e-10, 3e-10, 4e-10, 5e-10, 6e-10, 7e-10, 8e-10, 9e-10, 2e-9, 3e-9, 4e-9, 5e-9, 6e-9, 7e-9, 8e-9, 9e-9], "labels": false, "title": null, "tickSize": 3, "offset": -3}}
              }
            },
            {
              "data": {"name": "tb"},
              "transform": [{"filter": "datum.t == 'V'"}],
              "mark": {"type": "text", "fontSize": 16, "font": "Liberation Sans", "color": "#000", "align": "center", "baseline": "middle"},
              "encoding": {
                "x": {"field": "v", "type": "quantitative", "scale": {"type": "log", "domain": [0.01, 10], "nice": false}, "axis": null},
                "y": {"field": "i", "type": "quantitative", "scale": {"type": "log", "domain": [1e-13, 1e-8], "nice": false}, "axis": null},
                "text": {"field": "t"}
              }
            },
            {
              "data": {"name": "tb"},
              "transform": [{"filter": "datum.t == 'c1'"}],
              "mark": {"type": "text", "fontSize": 10, "font": "Liberation Sans", "color": "#000", "align": "left", "baseline": "middle"},
              "encoding": {
                "x": {"field": "v", "type": "quantitative", "scale": {"type": "log", "domain": [0.01, 10], "nice": false}, "axis": null},
                "y": {"field": "i", "type": "quantitative", "scale": {"type": "log", "domain": [1e-13, 1e-8], "nice": false}, "axis": null},
                "text": {"field": "t"}
              }
            }
          ],
          "resolve": {"axis": {"x": "independent", "y": "independent"}}
        }
      ]
    },
    {
      "bounds": "flush",
      "spacing": 76,
      "hconcat": [
        {
          "width": 302, "height": 154,
          "title": {"text": "c", "anchor": "start", "frame": "group", "dx": -55, "offset": -24, "fontSize": 13, "fontWeight": "bold", "baseline": "alphabetic", "font": "Liberation Sans", "color": "#000"},
          "layer": [
            {
              "data": {"values": [{"L": 0.1, "V": 0.078}, {"L": 2.7, "V": 2.106}]},
              "mark": {"type": "line", "color": "#2020ff", "strokeWidth": 1.3, "strokeDash": [3, 2], "clip": true},
              "encoding": {
                "x": {"field": "L", "type": "quantitative", "scale": {"domain": [0, 3], "nice": false},
                  "axis": {"orient": "bottom", "values": [0, 1, 2, 3], "format": "d", "ticks": false, "labelPadding": 7, "title": "L (mm)", "titleBaseline": "top", "titleY": 26}},
                "y": {"field": "V", "type": "quantitative", "scale": {"domain": [0, 2.1], "nice": false},
                  "axis": {"orient": "left", "values": [0, 0.5, 1, 1.5, 2], "format": ".1f", "ticks": false, "labelPadding": 7, "title": "V", "titleAngle": -90, "titleBaseline": "alphabetic", "titleAlign": "left", "titleX": -38, "titleY": 107}}
              }
            },
            {
              "data": {"name": "pc"},
              "mark": {"type": "point", "filled": true, "size": 30, "opacity": 1},
              "encoding": {
                "x": {"field": "L", "type": "quantitative", "scale": {"domain": [0, 3], "nice": false},
                  "axis": {"orient": "bottom", "values": [0, 1, 2, 3], "labels": false, "title": null, "tickSize": 5, "offset": -5}},
                "y": {"field": "V", "type": "quantitative", "scale": {"domain": [0, 2.1], "nice": false},
                  "axis": {"orient": "left", "values": [0, 0.5, 1, 1.5, 2], "labels": false, "tickSize": 5, "offset": -5, "title": "c2", "titleFontSize": 12, "titleAngle": -90, "titleBaseline": "alphabetic", "titleAlign": "left", "titleX": -35, "titleY": 95}},
                "color": {"field": "s", "type": "nominal", "scale": {"domain": ["o", "m", "b", "g", "r", "k"], "range": ["#ff8000", "#ff00ff", "#0000dd", "#00dd00", "#ff0000", "#000000"]}, "legend": null}
              }
            },
            {
              "data": {"name": "pc"},
              "mark": {"type": "rule", "color": "#000", "strokeWidth": 1.2},
              "encoding": {
                "x": {"field": "lo", "type": "quantitative", "scale": {"domain": [0, 3], "nice": false},
                  "axis": {"orient": "top", "values": [0, 1, 2, 3], "labels": false, "title": null, "tickSize": 5, "offset": -5}},
                "x2": {"field": "hi"},
                "y": {"field": "V", "type": "quantitative", "scale": {"domain": [0, 2.1], "nice": false},
                  "axis": {"orient": "right", "values": [0, 0.5, 1, 1.5, 2], "labels": false, "title": null, "tickSize": 5, "offset": -5}}
              }
            },
            {
              "data": {"values": [{"L": 1.73, "V": 1.51}]},
              "mark": {"type": "text", "text": "0.78·", "font": "Liberation Serif", "fontSize": 17, "color": "#2020ff", "align": "right", "baseline": "middle"},
              "encoding": {
                "x": {"field": "L", "type": "quantitative", "scale": {"domain": [0, 3], "nice": false},
                  "axis": {"orient": "bottom", "values": [0.5, 1.5, 2.5], "labels": false, "title": null, "tickSize": 3, "offset": -3}},
                "y": {"field": "V", "type": "quantitative", "scale": {"domain": [0, 2.1], "nice": false},
                  "axis": {"orient": "left", "values": [0.25, 0.75, 1.25, 1.75], "labels": false, "tickSize": 3, "offset": -3, "title": "(V)", "titleAngle": -90, "titleBaseline": "alphabetic", "titleAlign": "left", "titleX": -38, "titleY": 78}}
              }
            },
            {
              "data": {"values": [{"L": 1.73, "V": 1.51}]},
              "mark": {"type": "text", "text": "L", "font": "Liberation Serif", "fontStyle": "italic", "fontSize": 17, "color": "#2020ff", "align": "left", "baseline": "middle"},
              "encoding": {
                "x": {"field": "L", "type": "quantitative", "scale": {"domain": [0, 3], "nice": false},
                  "axis": {"orient": "top", "values": [0.5, 1.5, 2.5], "labels": false, "title": null, "tickSize": 3, "offset": -3}},
                "y": {"field": "V", "type": "quantitative", "scale": {"domain": [0, 2.1], "nice": false},
                  "axis": {"orient": "right", "values": [0.25, 0.75, 1.25, 1.75], "labels": false, "title": null, "tickSize": 3, "offset": -3}}
              }
            }
          ],
          "resolve": {"axis": {"x": "independent", "y": "independent"}}
        },
        {
          "bounds": "flush",
          "spacing": 61,
          "hconcat": [
            {
              "width": 120, "height": 154,
              "title": {"text": "d", "anchor": "start", "frame": "group", "dx": -46, "offset": -30.5, "fontSize": 13, "fontWeight": "bold", "baseline": "alphabetic", "font": "Liberation Sans", "color": "#000"},
              "layer": [
                {
                  "data": {"name": "pd"},
                  "mark": {"type": "line", "color": "#b4b4ff", "strokeWidth": 1},
                  "encoding": {
                    "x": {"field": "L", "type": "quantitative", "scale": {"domain": [0, 3], "nice": false},
                      "axis": {"orient": "bottom", "values": [0, 1, 2, 3], "format": "d", "ticks": false, "labelPadding": 7, "title": "L (mm)", "titleBaseline": "top", "titleY": 26}},
                    "y": {"field": "V", "type": "quantitative", "scale": {"domain": [0, 6], "nice": false},
                      "axis": {"orient": "left", "values": [0, 2, 4, 6], "format": "d", "ticks": false, "labelPadding": 8, "title": "V", "titleAngle": -90, "titleBaseline": "alphabetic", "titleAlign": "left", "titleX": -28, "titleY": 107}}
                  }
                },
                {
                  "data": {"values": [{"L": 0, "V": 0}, {"L": 2.86, "V": 6.0}]},
                  "mark": {"type": "line", "color": "#2a2aff", "strokeWidth": 2, "strokeDash": [3, 2], "clip": true},
                  "encoding": {
                    "x": {"field": "L", "type": "quantitative", "scale": {"domain": [0, 3], "nice": false},
                      "axis": {"orient": "bottom", "values": [0, 1, 2, 3], "labels": false, "title": null, "tickSize": 5, "offset": -5}},
                    "y": {"field": "V", "type": "quantitative", "scale": {"domain": [0, 6], "nice": false},
                      "axis": {"orient": "left", "values": [0, 2, 4, 6], "labels": false, "tickSize": 5, "offset": -5, "title": "c2", "titleFontSize": 12, "titleAngle": -90, "titleBaseline": "alphabetic", "titleAlign": "left", "titleX": -25, "titleY": 95}}
                  }
                },
                {
                  "data": {"name": "pd"},
                  "mark": {"type": "rule", "color": "#000", "strokeWidth": 1},
                  "encoding": {
                    "x": {"field": "L", "type": "quantitative", "scale": {"domain": [0, 3], "nice": false},
                      "axis": {"orient": "top", "values": [0, 1, 2, 3], "labels": false, "title": null, "tickSize": 5, "offset": -5}},
                    "y": {"field": "lo", "type": "quantitative", "scale": {"domain": [0, 6], "nice": false},
                      "axis": {"orient": "right", "values": [0, 2, 4, 6], "labels": false, "title": null, "tickSize": 5, "offset": -5}},
                    "y2": {"field": "hi"}
                  }
                },
                {
                  "data": {"name": "pd"},
                  "transform": [{"fold": ["lo", "hi"]}],
                  "mark": {"type": "tick", "orient": "horizontal", "color": "#000", "size": 6, "thickness": 1},
                  "encoding": {
                    "x": {"field": "L", "type": "quantitative", "scale": {"domain": [0, 3], "nice": false},
                      "axis": {"orient": "bottom", "values": [0.5, 1.5, 2.5], "labels": false, "title": null, "tickSize": 3, "offset": -3}},
                    "y": {"field": "value", "type": "quantitative", "scale": {"domain": [0, 6], "nice": false},
                      "axis": {"orient": "left", "values": [1, 3, 5], "labels": false, "tickSize": 3, "offset": -3, "title": "(V)", "titleAngle": -90, "titleBaseline": "alphabetic", "titleAlign": "left", "titleX": -28, "titleY": 78}}
                  }
                },
                {
                  "data": {"name": "pd"},
                  "mark": {"type": "point", "shape": "square", "filled": true, "size": 30, "opacity": 1},
                  "encoding": {
                    "x": {"field": "L", "type": "quantitative", "scale": {"domain": [0, 3], "nice": false},
                      "axis": {"orient": "top", "values": [0.5, 1.5, 2.5], "labels": false, "title": null, "tickSize": 3, "offset": -3}},
                    "y": {"field": "V", "type": "quantitative", "scale": {"domain": [0, 6], "nice": false},
                      "axis": {"orient": "right", "values": [1, 3, 5], "labels": false, "title": null, "tickSize": 3, "offset": -3}},
                    "color": {"field": "s", "type": "nominal", "scale": {"domain": ["m", "b", "g", "r", "k"], "range": ["#ff00ff", "#12128c", "#1c9a1c", "#ff0000", "#000000"]}, "legend": null}
                  }
                },
                {
                  "data": {"values": [{"L": 1.53, "V": 4.16}]},
                  "mark": {"type": "text", "text": "2.1·", "font": "Liberation Serif", "fontSize": 17, "color": "#2020ff", "align": "right", "baseline": "middle"},
                  "encoding": {
                    "x": {"field": "L", "type": "quantitative", "scale": {"domain": [0, 3], "nice": false}, "axis": null},
                    "y": {"field": "V", "type": "quantitative", "scale": {"domain": [0, 6], "nice": false}, "axis": null}
                  }
                },
                {
                  "data": {"values": [{"L": 1.53, "V": 4.16}]},
                  "mark": {"type": "text", "text": "L", "font": "Liberation Serif", "fontStyle": "italic", "fontSize": 17, "color": "#2020ff", "align": "left", "baseline": "middle"},
                  "encoding": {
                    "x": {"field": "L", "type": "quantitative", "scale": {"domain": [0, 3], "nice": false}, "axis": null},
                    "y": {"field": "V", "type": "quantitative", "scale": {"domain": [0, 6], "nice": false}, "axis": null}
                  }
                }
              ],
              "resolve": {"axis": {"x": "independent", "y": "independent"}}
            },
            {
              "width": 120, "height": 154,
              "title": {"text": "e", "anchor": "start", "frame": "group", "dx": -47, "offset": -30.5, "fontSize": 13, "fontWeight": "bold", "baseline": "alphabetic", "font": "Liberation Sans", "color": "#000"},
              "layer": [
                {
                  "data": {"name": "pe"},
                  "mark": {"type": "line", "color": "#999999", "strokeWidth": 1},
                  "encoding": {
                    "x": {"field": "L", "type": "quantitative", "scale": {"domain": [0, 3], "nice": false},
                      "axis": {"orient": "bottom", "values": [0, 1, 2, 3], "format": "d", "ticks": false, "labelPadding": 7, "title": "L (mm)", "titleBaseline": "top", "titleY": 26}},
                    "y": {"field": "V", "type": "quantitative", "scale": {"domain": [0, 3], "nice": false},
                      "axis": {"orient": "left", "values": [0, 1, 2, 3], "format": "d", "ticks": false, "labelPadding": 7, "title": "V", "titleAngle": -90, "titleBaseline": "alphabetic", "titleAlign": "left", "titleX": -27, "titleY": 107}}
                  }
                },
                {
                  "data": {"values": [{"L": 0.425, "V": 0.434}, {"L": 2.41, "V": 2.45}]},
                  "mark": {"type": "line", "color": "#ff0000", "strokeWidth": 2},
                  "encoding": {
                    "x": {"field": "L", "type": "quantitative", "scale": {"domain": [0, 3], "nice": false},
                      "axis": {"orient": "bottom", "values": [0, 1, 2, 3], "labels": false, "title": null, "tickSize": 5, "offset": -5}},
                    "y": {"field": "V", "type": "quantitative", "scale": {"domain": [0, 3], "nice": false},
                      "axis": {"orient": "left", "values": [0, 1, 2, 3], "labels": false, "tickSize": 5, "offset": -5, "title": "c1", "titleFontSize": 12, "titleAngle": -90, "titleBaseline": "alphabetic", "titleAlign": "left", "titleX": -24, "titleY": 95}}
                  }
                },
                {
                  "data": {"name": "pe"},
                  "mark": {"type": "point", "filled": true, "size": 30, "opacity": 1},
                  "encoding": {
                    "x": {"field": "L", "type": "quantitative", "scale": {"domain": [0, 3], "nice": false},
                      "axis": {"orient": "top", "values": [0, 1, 2, 3], "labels": false, "title": null, "tickSize": 5, "offset": -5}},
                    "y": {"field": "V", "type": "quantitative", "scale": {"domain": [0, 3], "nice": false},
                      "axis": {"orient": "right", "values": [0, 1, 2, 3], "labels": false, "title": null, "tickSize": 5, "offset": -5}},
                    "color": {"field": "s", "type": "nominal", "scale": {"domain": ["g", "r", "k"], "range": ["#00ee00", "#ff0000", "#000000"]}, "legend": null}
                  }
                },
                {
                  "data": {"values": [{"L": 1.425, "V": 1.88}]},
                  "mark": {"type": "text", "text": "1.02·", "font": "Liberation Serif", "fontSize": 17, "color": "#ff0000", "align": "right", "baseline": "middle"},
                  "encoding": {
                    "x": {"field": "L", "type": "quantitative", "scale": {"domain": [0, 3], "nice": false},
                      "axis": {"orient": "bottom", "values": [0.5, 1.5, 2.5], "labels": false, "title": null, "tickSize": 3, "offset": -3}},
                    "y": {"field": "V", "type": "quantitative", "scale": {"domain": [0, 3], "nice": false},
                      "axis": {"orient": "left", "values": [0.5, 1.5, 2.5], "labels": false, "tickSize": 3, "offset": -3, "title": "(V)", "titleAngle": -90, "titleBaseline": "alphabetic", "titleAlign": "left", "titleX": -27, "titleY": 78}}
                  }
                },
                {
                  "data": {"values": [{"L": 1.425, "V": 1.88}]},
                  "mark": {"type": "text", "text": "L", "font": "Liberation Serif", "fontStyle": "italic", "fontSize": 17, "color": "#ff0000", "align": "left", "baseline": "middle"},
                  "encoding": {
                    "x": {"field": "L", "type": "quantitative", "scale": {"domain": [0, 3], "nice": false},
                      "axis": {"orient": "top", "values": [0.5, 1.5, 2.5], "labels": false, "title": null, "tickSize": 3, "offset": -3}},
                    "y": {"field": "V", "type": "quantitative", "scale": {"domain": [0, 3], "nice": false},
                      "axis": {"orient": "right", "values": [0.5, 1.5, 2.5], "labels": false, "title": null, "tickSize": 3, "offset": -3}}
                  }
                }
              ],
              "resolve": {"axis": {"x": "independent", "y": "independent"}}
            }
          ]
        }
      ]
    }
  ],
  "spacing": 308,
  "bounds": "flush"
}
